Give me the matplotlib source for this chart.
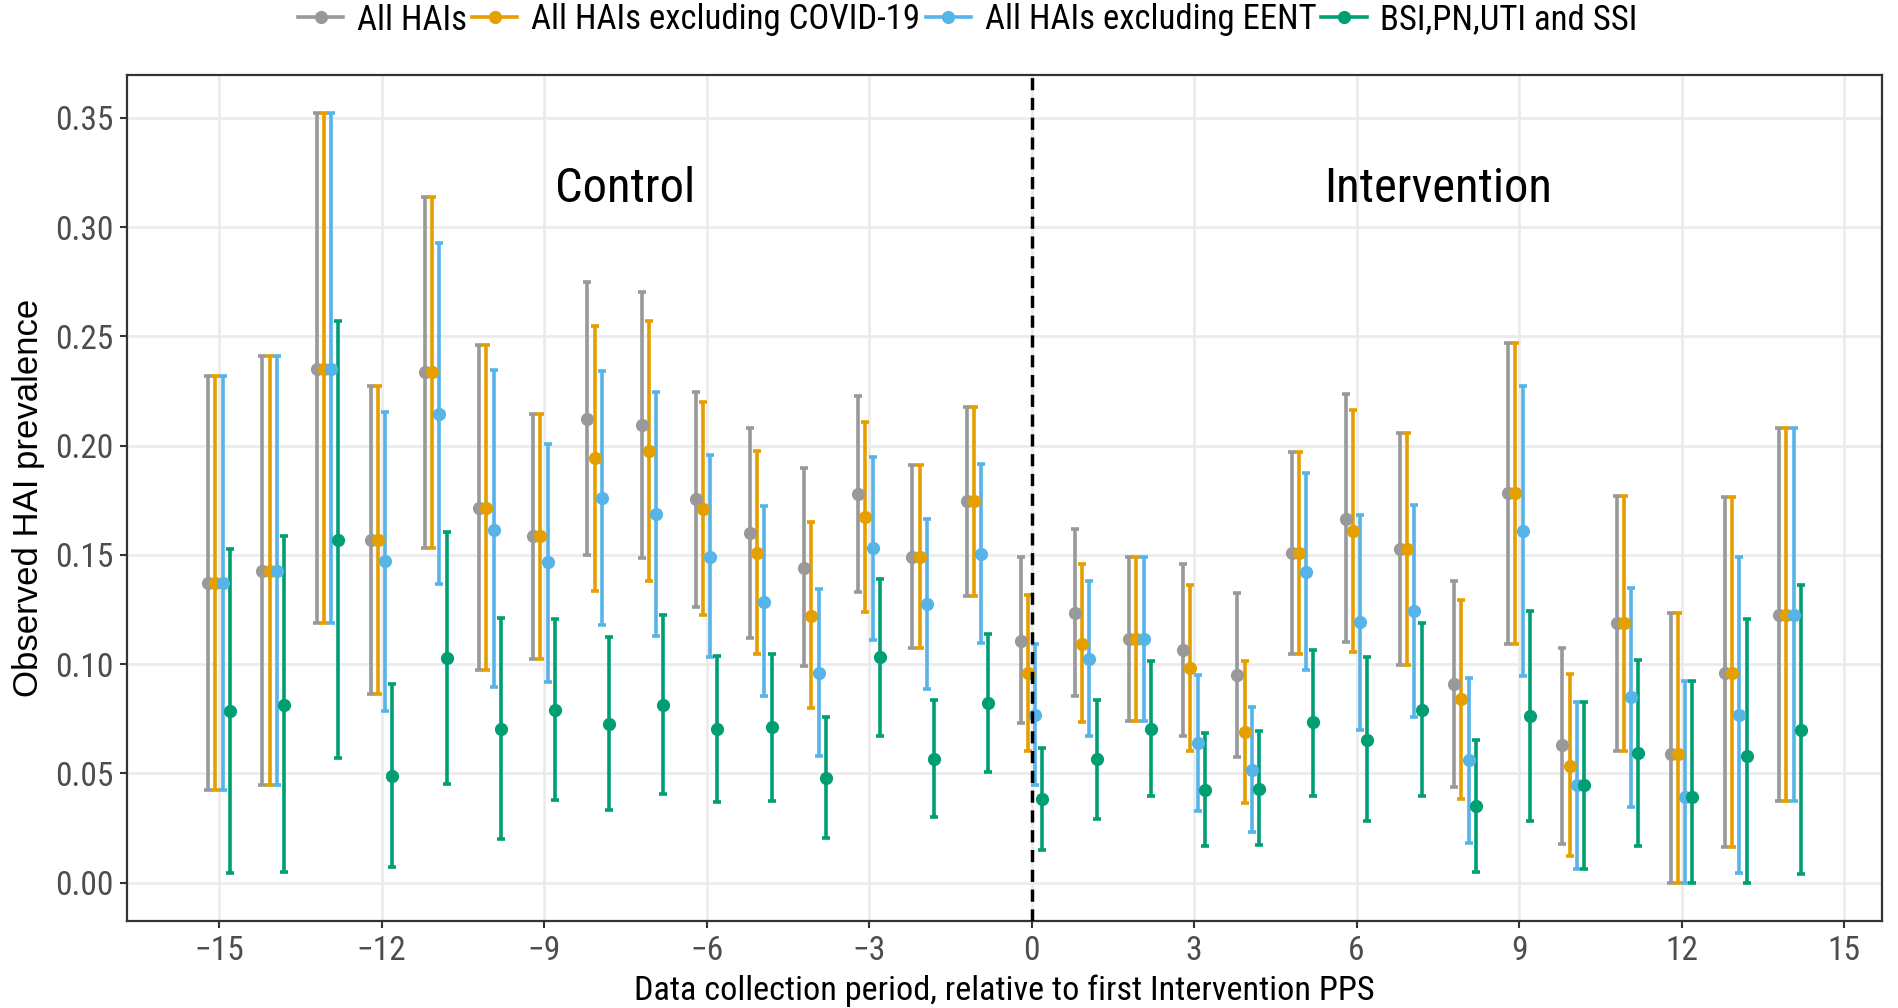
import matplotlib
matplotlib.use("Agg")
import matplotlib.pyplot as plt
from matplotlib import font_manager
from matplotlib.lines import Line2D
import numpy as np

# ---------------- data ----------------
periods = list(range(-15, 15))
series_names = ["All HAIs", "All HAIs excluding COVID-19",
                "All HAIs excluding EENT", "BSI,PN,UTI and SSI"]
series_colors = ["#999999", "#E69F00", "#56B4E9", "#009E73"]

gray_est = [0.137, 0.1425, 0.235, 0.1566, 0.2338, 0.1715, 0.1586, 0.212, 0.2092, 0.1755,
            0.160, 0.1441, 0.1779, 0.149, 0.1747, 0.1107, 0.1233, 0.1114, 0.1063, 0.095,
            0.1506, 0.1665, 0.1526, 0.0907, 0.1781, 0.0628, 0.1188, 0.0588, 0.0959, 0.1225]
gray_lo = [0.0425, 0.0448, 0.119, 0.0864, 0.1531, 0.0971, 0.1024, 0.1497, 0.1485, 0.1259,
           0.1118, 0.0989, 0.1332, 0.1073, 0.1312, 0.073, 0.0856, 0.0738, 0.067, 0.0573,
           0.1046, 0.1103, 0.0997, 0.0437, 0.109, 0.0177, 0.060, 0.0, 0.0163, 0.0375]
gray_hi = [0.232, 0.241, 0.352, 0.2274, 0.3137, 0.2459, 0.2144, 0.2747, 0.2701, 0.2245,
           0.2082, 0.1898, 0.2229, 0.1909, 0.2178, 0.1492, 0.1619, 0.1492, 0.1457, 0.1327,
           0.1969, 0.2234, 0.2059, 0.1379, 0.247, 0.1073, 0.177, 0.1233, 0.1764, 0.208]

orange_est = [0.137, 0.1425, 0.235, 0.1566, 0.2338, 0.1715, 0.1586, 0.1941, 0.1977, 0.1709,
              0.151, 0.1219, 0.1673, 0.149, 0.1747, 0.0958, 0.1093, 0.1114, 0.098, 0.0688,
              0.1506, 0.1608, 0.1526, 0.0838, 0.1781, 0.0532, 0.1188, 0.0588, 0.0959, 0.1225]
orange_lo = [0.0425, 0.0448, 0.119, 0.0864, 0.1531, 0.0971, 0.1024, 0.1336, 0.1382, 0.1223,
             0.1046, 0.0799, 0.1237, 0.1073, 0.1312, 0.06, 0.0733, 0.0738, 0.06, 0.0364,
             0.1046, 0.1053, 0.0997, 0.0384, 0.109, 0.012, 0.060, 0.0, 0.0163, 0.0375]
orange_hi = [0.232, 0.241, 0.352, 0.2274, 0.3137, 0.2459, 0.2144, 0.2546, 0.2572, 0.2199,
             0.1977, 0.165, 0.211, 0.1909, 0.2178, 0.1317, 0.1457, 0.1492, 0.136, 0.1016,
             0.1969, 0.2163, 0.2059, 0.1294, 0.247, 0.0954, 0.177, 0.1233, 0.1764, 0.208]

blue_est = [0.137, 0.1425, 0.235, 0.1471, 0.2145, 0.1614, 0.1467, 0.1758, 0.1685, 0.1491,
            0.1283, 0.0959, 0.1531, 0.1276, 0.1505, 0.0768, 0.1024, 0.1114, 0.0637, 0.0516,
            0.1422, 0.1191, 0.1242, 0.0559, 0.1608, 0.0448, 0.0849, 0.0392, 0.0768, 0.1225]
blue_lo = [0.0425, 0.0448, 0.119, 0.0783, 0.1368, 0.0893, 0.092, 0.1177, 0.113, 0.1032,
           0.0852, 0.0577, 0.111, 0.0886, 0.1096, 0.0445, 0.0669, 0.0738, 0.0326, 0.0231,
           0.0971, 0.07, 0.0756, 0.0181, 0.0945, 0.0064, 0.0346, 0.0, 0.0044, 0.0375]
blue_hi = [0.232, 0.241, 0.352, 0.2155, 0.2929, 0.2344, 0.2006, 0.234, 0.2245, 0.1955,
           0.1725, 0.1342, 0.1947, 0.1665, 0.1916, 0.1091, 0.1378, 0.1492, 0.0951, 0.0803,
           0.1874, 0.1681, 0.1727, 0.0937, 0.2274, 0.0826, 0.135, 0.0924, 0.1492, 0.208]

green_est = [0.0783, 0.0814, 0.1566, 0.0489, 0.1026, 0.0704, 0.0791, 0.0725, 0.0814, 0.0703,
             0.071, 0.0478, 0.1033, 0.0567, 0.082, 0.0382, 0.0565, 0.0705, 0.0425, 0.043,
             0.0733, 0.0654, 0.0791, 0.0349, 0.0763, 0.0448, 0.0593, 0.0392, 0.0577, 0.0699]
green_lo = [0.0044, 0.0048, 0.057, 0.0071, 0.0452, 0.020, 0.0379, 0.033, 0.0407, 0.0369,
            0.0375, 0.0204, 0.0673, 0.0298, 0.0506, 0.0147, 0.0292, 0.0398, 0.0166, 0.017,
            0.0398, 0.028, 0.0394, 0.0048, 0.0283, 0.0064, 0.0169, 0.0, 0.0, 0.0039]
green_hi = [0.1525, 0.1584, 0.2568, 0.0908, 0.1604, 0.1213, 0.1206, 0.1124, 0.1223, 0.1035,
            0.1047, 0.0757, 0.1388, 0.0837, 0.1137, 0.0616, 0.0837, 0.1012, 0.0684, 0.0692,
            0.1066, 0.1033, 0.1188, 0.0654, 0.1242, 0.0826, 0.102, 0.0924, 0.1207, 0.1363]

x_ticks = [-15, -12, -9, -6, -3, 0, 3, 6, 9, 12, 15]
y_ticks = [0.00, 0.05, 0.10, 0.15, 0.20, 0.25, 0.30, 0.35]
x_label = "Data collection period, relative to first Intervention PPS"
y_label = "Observed HAI prevalence"
phase_labels = ["Control", "Intervention"]
phase_x = [-7.5, 7.5]
phase_y = 0.3115

# ---------------- fonts ----------------
names = {f.name for f in font_manager.fontManager.ttflist}
narrow = "Liberation Sans"
for cand in ["Liberation Sans Narrow", "Arial Narrow", "Roboto Condensed", "Archivo Narrow"]:
    if cand in names:
        narrow = cand
        break
fam = [narrow, "Liberation Sans", "DejaVu Sans"]
plt.rcParams["font.family"] = fam

# ---------------- figure ----------------
fig = plt.figure(figsize=(18.98, 10.08), dpi=100)
ax = fig.add_axes([127 / 1898, 1 - 921 / 1008, (1882 - 127) / 1898, (921 - 75) / 1008])

all_series = [
    (gray_est, gray_lo, gray_hi),
    (orange_est, orange_lo, orange_hi),
    (blue_est, blue_lo, blue_hi),
    (green_est, green_lo, green_hi),
]
offsets = [-0.2, -0.0667, 0.0667, 0.2]
px = np.array(periods, dtype=float)

for (est, lo, hi), off, col in zip(all_series, offsets, series_colors):
    est = np.array(est); lo = np.array(lo); hi = np.array(hi)
    ax.errorbar(px + off, est, yerr=[est - lo, hi - est], fmt="none",
                ecolor=col, elinewidth=2.6, capsize=2.6, capthick=2.6, zorder=3)
for (est, lo, hi), off, col in zip(all_series, offsets, series_colors):
    ax.plot(px + off, est, "o", color=col, ms=9.5, mec="none", zorder=4)

ax.axvline(0, color="black", lw=2.5, ls=(0, (3.5, 2.2)), zorder=5)

for lab, xx in zip(phase_labels, phase_x):
    ax.text(xx, phase_y, lab, ha="center", va="baseline", fontsize=35, color="black")

ax.set_xlim(-16.7, 15.7)
ax.set_ylim(-0.0176, 0.3696)
ax.set_xticks(x_ticks)
ax.set_yticks(y_ticks)
ax.set_yticklabels([f"{v:.2f}" for v in y_ticks])
ax.grid(True, color="#EBEBEB", lw=1.9)
ax.set_axisbelow(True)
ax.tick_params(axis="both", length=5, width=1.5, color="#333333",
               labelcolor="#4D4D4D", labelsize=24, pad=5)
for sp in ax.spines.values():
    sp.set_color("#333333")
    sp.set_linewidth(1.6)

ax.set_xlabel(x_label, fontsize=24.7, color="black")
ax.xaxis.set_label_coords(0.5, -0.0635)
ax.set_ylabel(y_label, fontsize=25, color="black", family=["Liberation Sans", "DejaVu Sans"])
ax.yaxis.set_label_coords(-0.047, 0.5)

handles = [Line2D([0], [0], color=c, lw=2.6, marker="o", ms=9.5, mec="none")
           for c in series_colors]
leg = fig.legend(handles, series_names, loc="center", bbox_to_anchor=(0.51, 1 - 20 / 1008),
                 ncol=4, frameon=False, fontsize=25, handlelength=1.3,
                 handletextpad=0.4, columnspacing=0.15, borderaxespad=0, borderpad=0)

fig.savefig("out.png", dpi=100)
